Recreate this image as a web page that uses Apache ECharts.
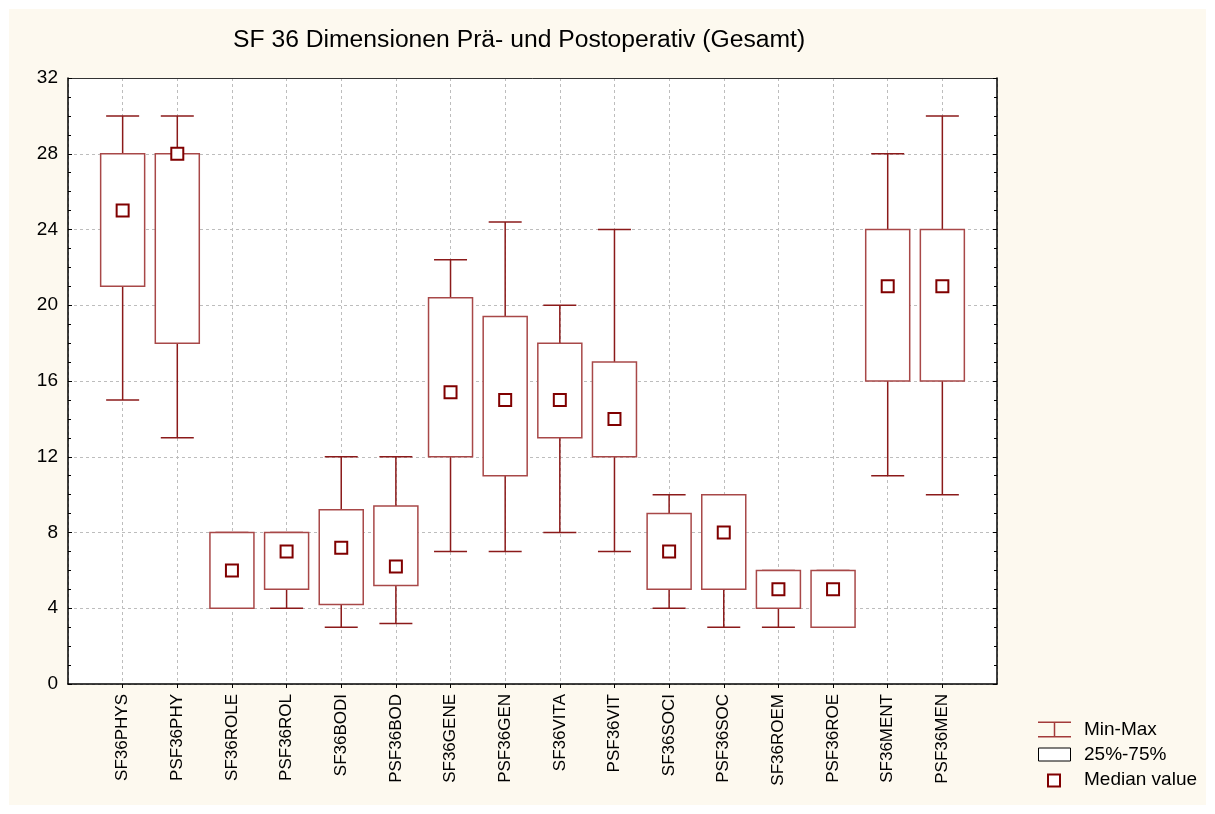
<!DOCTYPE html>
<html>
<head>
<meta charset="utf-8">
<title>SF 36 Dimensionen</title>
<script src="https://cdn.jsdelivr.net/npm/echarts@6/dist/echarts.min.js"></script>
<style>
  html, body { margin: 0; padding: 0; background: #ffffff; }
  #bg { position: absolute; left: 9px; top: 9px; width: 1197px; height: 796px; background: #fdf9ef; }
  #chart { position: absolute; left: 0; top: 0; width: 1215px; height: 814px; }
</style>
</head>
<body>
<div id="bg"></div>
<div id="chart"></div>
<script>
// Kategorien (Dimensionen prä / post)
const categories = ['SF36PHYS', 'PSF36PHY', 'SF36ROLE', 'PSF36ROL', 'SF36BODI', 'PSF36BOD',
  'SF36GENE', 'PSF36GEN', 'SF36VITA', 'PSF36VIT', 'SF36SOCI', 'PSF36SOC',
  'SF36ROEM', 'PSF36ROE', 'SF36MENT', 'PSF36MEN']

// Kennwerte je Dimension
const minValues = [15, 13, 4, 4, 3, 3.2, 7, 7, 8, 7, 4, 3, 3, 3, 11, 10]
const q1Values = [21, 18, 4, 5, 4.2, 5.2, 12, 11, 13, 12, 5, 5, 4, 3, 16, 16]
const medianValues = [25, 28, 6, 7, 7.2, 6.2, 15.4, 15, 15, 14, 7, 8, 5, 5, 21, 21]
const q3Values = [28, 28, 8, 8, 9.2, 9.4, 20.4, 19.4, 18, 17, 9, 10, 6, 6, 24, 24]
const maxValues = [30, 30, 8, 8, 12, 12, 22.4, 24.4, 20, 24, 10, 10, 6, 6, 28, 30]

const yTicks = [0, 4, 8, 12, 16, 20, 24, 28, 32]

const whiskerColor = '#8b1a1a'
const boxColor = '#a84848'
const medianColor = '#800000'
const fontFamily = '"Liberation Sans", Arial, sans-serif'

const chart = echarts.init(document.getElementById('chart'))

// Whisker: Linie von Min bis Max plus Querstriche
function renderWhisker (params, api) {
  const x = api.value(0)
  const lo = api.coord([x, api.value(1)])
  const hi = api.coord([x, api.value(2)])
  const style = { stroke: whiskerColor, lineWidth: 1.5 }
  const cap = 16.5
  return {
    type: 'group',
    children: [
      { type: 'line', shape: { x1: lo[0], y1: lo[1], x2: hi[0], y2: hi[1] }, style },
      { type: 'line', shape: { x1: lo[0] - cap, y1: lo[1], x2: lo[0] + cap, y2: lo[1] }, style },
      { type: 'line', shape: { x1: hi[0] - cap, y1: hi[1], x2: hi[0] + cap, y2: hi[1] }, style }
    ]
  }
}

// Box: 25%-75%
function renderBox (params, api) {
  const x = api.value(0)
  const lo = api.coord([x, api.value(1)])
  const hi = api.coord([x, api.value(2)])
  const half = 22
  return {
    type: 'rect',
    shape: { x: lo[0] - half, y: hi[1], width: half * 2, height: lo[1] - hi[1] },
    style: { fill: '#ffffff', stroke: boxColor, lineWidth: 1.5 }
  }
}

const whiskerData = categories.map((c, i) => [i, minValues[i], maxValues[i]])
const boxData = categories.map((c, i) => [i, q1Values[i], q3Values[i]])
const medianData = categories.map((c, i) => [i, medianValues[i]])

chart.setOption({
  animation: false,
  title: {
    text: 'SF 36 Dimensionen Prä- und Postoperativ (Gesamt)',
    left: 233,
    top: 28,
    padding: 0,
    textStyle: { fontFamily, fontSize: 24.7, fontWeight: 'normal', color: '#000' }
  },
  legend: {
    orient: 'vertical',
    left: 1037,
    top: 720,
    padding: 0,
    itemWidth: 33,
    itemHeight: 16,
    itemGap: 6,
    selectedMode: false,
    textStyle: { fontFamily, fontSize: 19, color: '#000', padding: [0, 0, 0, 8] },
    data: [
      {
        name: 'Min-Max',
        icon: 'path://M0,0H33V1.5H0Z M15.75,0H17.25V16H15.75Z M0,14.5H33V16H0Z',
        itemStyle: { color: '#a33a3a', borderWidth: 0 }
      },
      {
        name: '25%-75%',
        icon: 'path://M0,0M33,16M0.5,1.5H32.5V14.5H0.5Z',
        itemStyle: { color: '#ffffff', borderColor: '#000', borderWidth: 1 }
      },
      {
        name: 'Median value',
        icon: 'path://M0,0M33,16M10,3H22V15H10Z',
        itemStyle: { color: '#ffffff', borderColor: medianColor, borderWidth: 2 }
      }
    ]
  },
  grid: {
    left: 68,
    top: 78,
    width: 929,
    height: 606,
    show: true,
    backgroundColor: '#ffffff',
    borderWidth: 0
  },
  xAxis: [
    {
      type: 'value',
      min: -1,
      max: 16,
      interval: 1,
      axisLine: { show: true, onZero: false, lineStyle: { color: '#000', width: 1.5 } },
      axisTick: { show: true, length: 4, lineStyle: { color: '#000' } },
      axisLabel: {
        rotate: 90,
        margin: 10,
        fontFamily,
        fontSize: 17,
        color: '#000',
        showMinLabel: false,
        showMaxLabel: false,
        formatter: v => categories[v] || ''
      },
      splitLine: { show: true, lineStyle: { color: '#bdbdbd', type: [3, 3], width: 1 } }
    },
    {
      type: 'value',
      position: 'top',
      min: -1,
      max: 16,
      interval: 1,
      axisLine: { show: true, onZero: false, lineStyle: { color: '#333', width: 1 } },
      axisTick: { show: false },
      axisLabel: { show: false },
      splitLine: { show: false }
    }
  ],
  yAxis: [
    {
      type: 'value',
      min: 0,
      max: 32,
      interval: 4,
      axisLine: { show: true, onZero: false, lineStyle: { color: '#000', width: 1.5 } },
      axisTick: { show: true, inside: true, length: 4, lineStyle: { color: '#000' } },
      minorTick: { show: true, splitNumber: 4, length: 3, lineStyle: { color: '#000' } },
      axisLabel: {
        margin: 10,
        fontFamily,
        fontSize: 19,
        color: '#000',
        formatter: v => (yTicks.includes(v) ? String(v) : '')
      },
      splitLine: { show: true, lineStyle: { color: '#bdbdbd', type: [3, 3], width: 1 } }
    },
    {
      type: 'value',
      position: 'right',
      min: 0,
      max: 32,
      interval: 4,
      axisLine: { show: true, onZero: false, lineStyle: { color: '#000', width: 1.5 } },
      axisTick: { show: true, inside: true, length: 4, lineStyle: { color: '#000' } },
      minorTick: { show: true, splitNumber: 4, length: 3, lineStyle: { color: '#000' } },
      axisLabel: { show: false },
      splitLine: { show: false }
    }
  ],
  series: [
    {
      name: 'Min-Max',
      type: 'custom',
      renderItem: renderWhisker,
      encode: { x: 0, y: [1, 2] },
      itemStyle: { color: whiskerColor },
      data: whiskerData,
      z: 2
    },
    {
      name: '25%-75%',
      type: 'custom',
      renderItem: renderBox,
      encode: { x: 0, y: [1, 2] },
      itemStyle: { color: '#ffffff' },
      data: boxData,
      z: 3
    },
    {
      name: 'Median value',
      type: 'scatter',
      symbol: 'rect',
      symbolSize: 12,
      itemStyle: { color: '#ffffff', borderColor: medianColor, borderWidth: 2, opacity: 1 },
      data: medianData,
      z: 4
    }
  ]
})
</script>
</body>
</html>
